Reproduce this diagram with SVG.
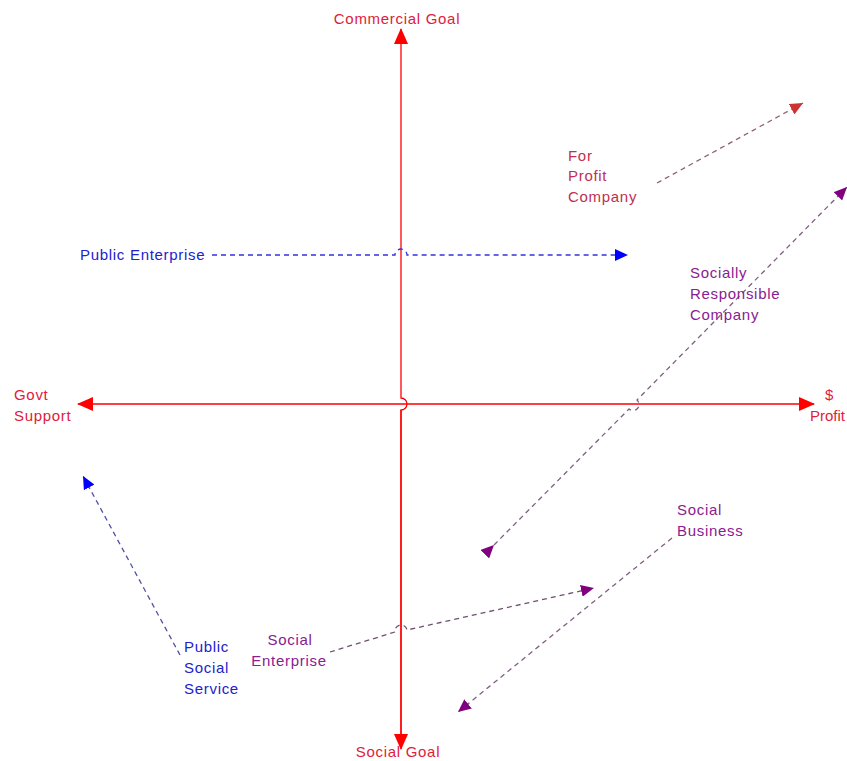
<svg xmlns="http://www.w3.org/2000/svg" width="847" height="761" viewBox="0 0 847 761">
<defs>
<marker id="ar" markerWidth="16" markerHeight="14" refX="15" refY="7" orient="auto" markerUnits="userSpaceOnUse"><path d="M0,0 L16,7 L0,14 z" fill="#ff0000"/></marker>
<marker id="ab" markerWidth="14" markerHeight="12" refX="13" refY="6" orient="auto" markerUnits="userSpaceOnUse"><path d="M0,0 L13,6 L0,12 z" fill="#0000ff"/></marker>
<marker id="ap" markerWidth="14" markerHeight="12" refX="13" refY="6" orient="auto" markerUnits="userSpaceOnUse"><path d="M0,0 L13,6 L0,12 z" fill="#800080"/></marker>
<marker id="apr" markerWidth="14" markerHeight="12" refX="13" refY="6" orient="auto" markerUnits="userSpaceOnUse"><path d="M0,0 L13,6 L0,12 z" fill="#cc3333"/></marker>
</defs>
<style>
text{font-family:"Liberation Sans",Arial,sans-serif;font-size:15px;letter-spacing:0.7px}
.red{fill:#e0203a}
.blue{fill:#2222cc}
.pur{fill:#8a2090}
.fp{fill:#c03050}
.axis{stroke:#ff0000;stroke-width:1.3;fill:none}
.dash{stroke-width:1.3;fill:none;stroke-dasharray:5,4}
</style>
<rect width="847" height="761" fill="#ffffff"/>
<g id="connectors">
<path class="axis" d="M401,748 L401,410 A6,6 0 0 0 401,398 L401,29" marker-end="url(#ar)"/>
<path class="axis" d="M401,404 L78,404" marker-end="url(#ar)"/>
<path class="axis" d="M401,404 L814,404" marker-end="url(#ar)"/>
<path class="axis" d="M401,410 L401,749" marker-end="url(#ar)"/>
<path class="dash" stroke="#3333dd" d="M212,255 L395,255 A6,6 0 0 1 407,255 L628,255" marker-end="url(#ab)"/>
<path class="dash" stroke="#906070" d="M657,183 L803,103" marker-end="url(#apr)"/>
<path class="dash" stroke="#806080" d="M494,545 L629,409 A6,6 0 0 0 637,400 L847,187" marker-start="url(#ap)" marker-end="url(#ap)"/>
<path class="dash" stroke="#806080" d="M672,538 L458,712" marker-end="url(#ap)"/>
<path class="dash" stroke="#705070" d="M330,652 L395,632 A6,6 0 0 1 407,630 L594,588" marker-end="url(#ap)"/>
<path class="dash" stroke="#5050a0" d="M180,655 L83,476" marker-end="url(#ab)"/>
</g>
<g id="commercial-goal"><text class="red" x="397" y="24" text-anchor="middle">Commercial Goal</text></g>
<g id="social-goal"><text class="red" x="398" y="757" text-anchor="middle">Social Goal</text></g>
<g id="govt-support"><text class="red" x="14" y="400">Govt</text><text class="red" x="14" y="421">Support</text></g>
<g id="profit"><text class="red" x="825" y="400">$</text><text class="red" x="810" y="421" textLength="35" lengthAdjust="spacingAndGlyphs" style="letter-spacing:0">Profit</text></g>
<g id="for-profit-company"><text class="fp" x="568" y="161">For</text><text class="fp" x="568" y="181">Profit</text><text class="fp" x="568" y="202">Company</text></g>
<g id="public-enterprise"><text class="blue" x="80" y="260">Public Enterprise</text></g>
<g id="socially-responsible-company"><text class="pur" x="690" y="278">Socially</text><text class="pur" x="690" y="299">Responsible</text><text class="pur" x="690" y="320">Company</text></g>
<g id="social-business"><text class="pur" x="677" y="515">Social</text><text class="pur" x="677" y="536">Business</text></g>
<g id="social-enterprise"><text class="pur" x="290" y="645" text-anchor="middle">Social</text><text class="pur" x="289" y="666" text-anchor="middle">Enterprise</text></g>
<g id="public-social-service"><text class="blue" x="184" y="652">Public</text><text class="blue" x="184" y="673">Social</text><text class="blue" x="184" y="694">Service</text></g>
</svg>
